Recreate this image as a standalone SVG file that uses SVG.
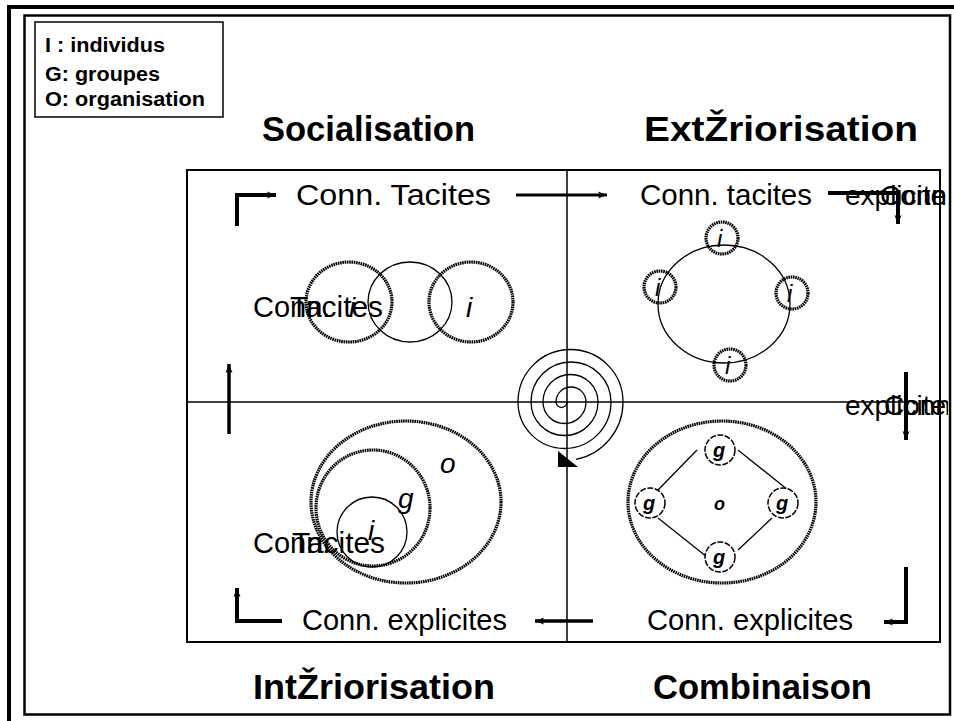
<svg xmlns="http://www.w3.org/2000/svg" width="954" height="721" viewBox="0 0 954 721">
<style>
.t{font-family:"Liberation Sans",Arial,sans-serif;fill:#000}
.b{font-weight:bold}
.it{font-style:italic}
.thick{fill:none;stroke:#000;stroke-width:3.2;stroke-dasharray:1.6 0.7}
.thin{fill:none;stroke:#000;stroke-width:1.3}
.arr{fill:none;stroke:#000;stroke-linecap:butt}
.frame{fill:none;stroke:#000}
</style>
<defs>
<marker id="ah" markerUnits="userSpaceOnUse" markerWidth="10" markerHeight="8" refX="9" refY="4" orient="auto">
<path d="M0,0.5 L9,4 L0,7.5 L2,4 Z" fill="#000"/>
</marker>
<clipPath id="clipR"><rect x="0" y="0" width="948" height="721"/></clipPath>
</defs>
<rect width="954" height="721" fill="#fff"/>
<g id="frame">
<path class="frame" d="M9,721 V7 H954" stroke-width="4"/>
<rect class="frame" x="24.5" y="15.5" width="925.5" height="699" stroke-width="2.5"/>
<rect class="frame" x="187" y="170" width="753" height="472" stroke-width="2"/>
<line class="frame" x1="567" y1="170" x2="567" y2="642" stroke-width="1.5"/>
<line class="frame" x1="187" y1="402" x2="906" y2="402" stroke-width="1.5"/>
</g>
<g id="legend">
<rect class="frame" x="35" y="22" width="188" height="95" stroke-width="1.5"/>
<text class="t b" x="45" y="52" font-size="20" textLength="120" lengthAdjust="spacingAndGlyphs">I : individus</text>
<text class="t b" x="45" y="81" font-size="20" textLength="115" lengthAdjust="spacingAndGlyphs">G: groupes</text>
<text class="t b" x="45" y="106" font-size="20" textLength="160" lengthAdjust="spacingAndGlyphs">O: organisation</text>
</g>
<g id="titles">
<text class="t b" x="262" y="141" font-size="35" textLength="213" lengthAdjust="spacingAndGlyphs">Socialisation</text>
<text class="t b" x="644" y="141" font-size="35" textLength="274" lengthAdjust="spacingAndGlyphs">ExtŽriorisation</text>
<text class="t b" x="253" y="699" font-size="35" textLength="242" lengthAdjust="spacingAndGlyphs">IntŽriorisation</text>
<text class="t b" x="653" y="699" font-size="35" textLength="219" lengthAdjust="spacingAndGlyphs">Combinaison</text>
</g>
<g id="connectors">
<polyline class="arr" points="237,226 237,195 276,195" stroke-width="4" marker-end="url(#ah)"/>
<line class="arr" x1="516" y1="195" x2="607" y2="195" stroke-width="3" marker-end="url(#ah)"/>
<polyline class="arr" points="828,193 898,193 898,224" stroke-width="4" marker-end="url(#ah)"/>
<line class="arr" x1="906" y1="372" x2="906" y2="440" stroke-width="4" marker-end="url(#ah)"/>
<polyline class="arr" points="906,567 906,622 884,622" stroke-width="4" marker-end="url(#ah)"/>
<line class="arr" x1="593" y1="621" x2="535" y2="621" stroke-width="3.5" marker-end="url(#ah)"/>
<polyline class="arr" points="282,621 237,621 237,588" stroke-width="4" marker-end="url(#ah)"/>
<line class="arr" x1="229" y1="434" x2="229" y2="364" stroke-width="3.5" marker-end="url(#ah)"/>
</g>
<g id="labels">
<text class="t" x="296" y="205" font-size="29" textLength="195" lengthAdjust="spacingAndGlyphs">Conn. Tacites</text>
<text class="t" x="640" y="205" font-size="29" textLength="172" lengthAdjust="spacingAndGlyphs">Conn. tacites</text>
<g clip-path="url(#clipR)">
<text class="t" x="845" y="205" font-size="28">explicite</text>
<text class="t" x="880" y="205" font-size="28">Conn.</text>
<text class="t" x="845" y="415" font-size="28">explicite</text>
<text class="t" x="884" y="415" font-size="28">Conn.</text>
</g>
<text class="t" x="302" y="630" font-size="29" textLength="205" lengthAdjust="spacingAndGlyphs">Conn. explicites</text>
<text class="t" x="647" y="630" font-size="29" textLength="206" lengthAdjust="spacingAndGlyphs">Conn. explicites</text>
</g>
<g id="socialisation-node">
<ellipse class="thick" cx="349" cy="302" rx="43" ry="40"/>
<ellipse class="thin" cx="410" cy="302" rx="42" ry="40"/>
<ellipse class="thick" cx="471" cy="302" rx="42" ry="40"/>
<text class="t it" x="349" y="317" font-size="28">i</text>
<text class="t it" x="466" y="317" font-size="28">i</text>
<text class="t" x="253" y="317" font-size="29">Conn.</text>
<text class="t" x="290" y="317" font-size="29" textLength="93" lengthAdjust="spacingAndGlyphs">Tacites</text>
</g>
<g id="exteriorisation-node">
<ellipse class="thin" cx="724" cy="304" rx="66" ry="59"/>
<circle cx="722" cy="238" r="16" fill="#fff" class="thick"/>
<circle cx="660" cy="287" r="16" fill="#fff" class="thick"/>
<circle cx="792" cy="293" r="16" fill="#fff" class="thick"/>
<circle cx="730" cy="365" r="16" fill="#fff" class="thick"/>
<text class="t it" x="717" y="247" font-size="24">i</text>
<text class="t it" x="655" y="296" font-size="24">i</text>
<text class="t it" x="787" y="302" font-size="24">i</text>
<text class="t it" x="725" y="374" font-size="24">i</text>
</g>
<g id="spiral">
<path class="thin" d="M567,402 A5.5,5.5 0 0 1 556,402 A15,15 0 0 1 586,402 A21.5,21.5 0 0 1 543,402 A27.5,27.5 0 0 1 598,402 A33.5,33.5 0 0 1 531,402 A40,40 0 0 1 611,402 A46.5,46.5 0 0 1 518,402 A52.5,52.5 0 0 1 623,402 A58.5,58.5 0 0 1 576,459.4" stroke-width="1.2"/>
<polygon points="558,451 558,467 578,467" fill="#000"/>
</g>
<g id="interiorisation-node">
<ellipse class="thick" cx="406" cy="502" rx="95" ry="81"/>
<ellipse class="thick" cx="373" cy="508" rx="57" ry="58"/>
<ellipse class="thin" cx="372" cy="532" rx="35" ry="35"/>
<text class="t it" x="440" y="473" font-size="28">o</text>
<text class="t it" x="398" y="508" font-size="28">g</text>
<text class="t it" x="368" y="540" font-size="28">i</text>
<text class="t" x="253" y="553" font-size="29">Conn.</text>
<text class="t" x="292" y="553" font-size="29" textLength="93" lengthAdjust="spacingAndGlyphs">Tacites</text>
</g>
<g id="combinaison-node">
<ellipse class="thick" cx="722" cy="502" rx="94" ry="81"/>
<line class="thin" x1="697" y1="450" x2="658" y2="490"/>
<line class="thin" x1="738" y1="450" x2="788" y2="490"/>
<line class="thin" x1="658" y1="518" x2="707" y2="557"/>
<line class="thin" x1="738" y1="550" x2="772" y2="518"/>
<circle cx="720" cy="450" r="15" fill="#fff" stroke="#000" stroke-width="1.5" stroke-dasharray="6 1.5"/>
<circle cx="650" cy="503" r="15" fill="#fff" stroke="#000" stroke-width="1.5" stroke-dasharray="6 1.5"/>
<circle cx="783" cy="503" r="15" fill="#fff" stroke="#000" stroke-width="1.5" stroke-dasharray="6 1.5"/>
<circle cx="720" cy="557" r="15" fill="#fff" stroke="#000" stroke-width="1.5" stroke-dasharray="6 1.5"/>
<text class="t b it" x="713" y="457" font-size="20">g</text>
<text class="t b it" x="643" y="510" font-size="20">g</text>
<text class="t b it" x="776" y="510" font-size="20">g</text>
<text class="t b it" x="713" y="564" font-size="20">g</text>
<text class="t b it" x="714" y="510" font-size="18">o</text>
</g>
</svg>
